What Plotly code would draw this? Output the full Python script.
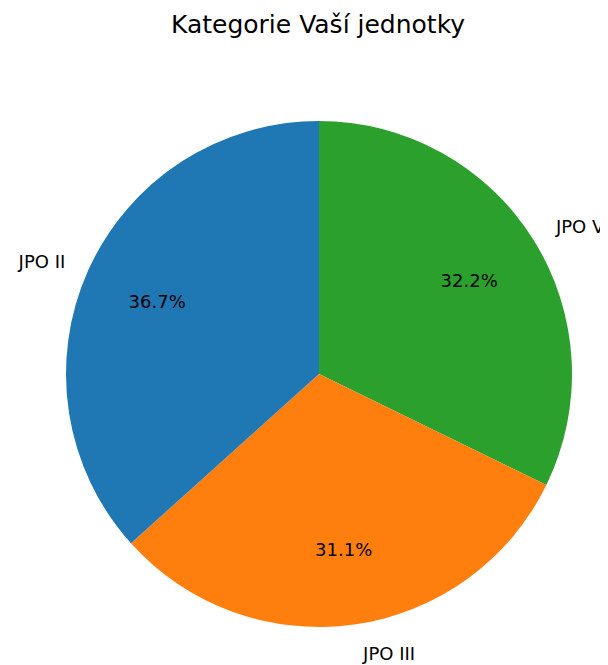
import plotly.graph_objects as go

labels = ['JPO II', 'JPO III', 'JPO V']
counts = [33, 28, 29]
colors = ['#1f77b4', '#ff7f0e', '#2ca02c']
title = 'Kategorie Vaší jednotky'

W, H = 608, 665
# page body adds an offset of a few px, so aim a bit up/left
cx, cy, r = 311, 366, 253


def dom(rad):
    return dict(x=[(cx - rad) / W, (cx + rad) / W],
                y=[1 - (cy + rad) / H, 1 - (cy - rad) / H])


# plotly goes clockwise from 12 o'clock, so feed the slices reversed
# to get the counter-clockwise order of the original
common = dict(labels=labels[::-1], values=counts[::-1], sort=False,
              direction='clockwise', rotation=0,
              hoverinfo='skip', showlegend=False)

fig = go.Figure()

# coloured wedges
fig.add_trace(go.Pie(**common, domain=dom(r), textinfo='none',
                     marker=dict(colors=colors[::-1], line=dict(width=0))))

# percentages (transparent ring so the text sits at ~0.7 r)
fig.add_trace(go.Pie(**common, domain=dom(r), hole=0.4,
                     textinfo='percent', texttemplate='%{percent:.1%}',
                     textposition='inside', insidetextorientation='horizontal',
                     insidetextfont=dict(family='DejaVu Sans', size=18, color='black'),
                     marker=dict(colors=['rgba(0,0,0,0)'] * 3, line=dict(width=0))))

# category names outside
fig.add_trace(go.Pie(**common, domain=dom(r + 19), textinfo='label',
                     textposition='outside',
                     outsidetextfont=dict(family='DejaVu Sans', size=18, color='black'),
                     marker=dict(colors=['rgba(0,0,0,0)'] * 3, line=dict(width=0))))

fig.update_layout(
    width=W, height=H,
    margin=dict(l=0, r=0, t=0, b=0),
    paper_bgcolor='white', plot_bgcolor='white',
    title=dict(text=title, x=310 / W, xanchor='center', y=1 - 16 / H, yanchor='middle',
               font=dict(family='DejaVu Sans', size=25, color='black')),
)

fig.write_html('out.html')
